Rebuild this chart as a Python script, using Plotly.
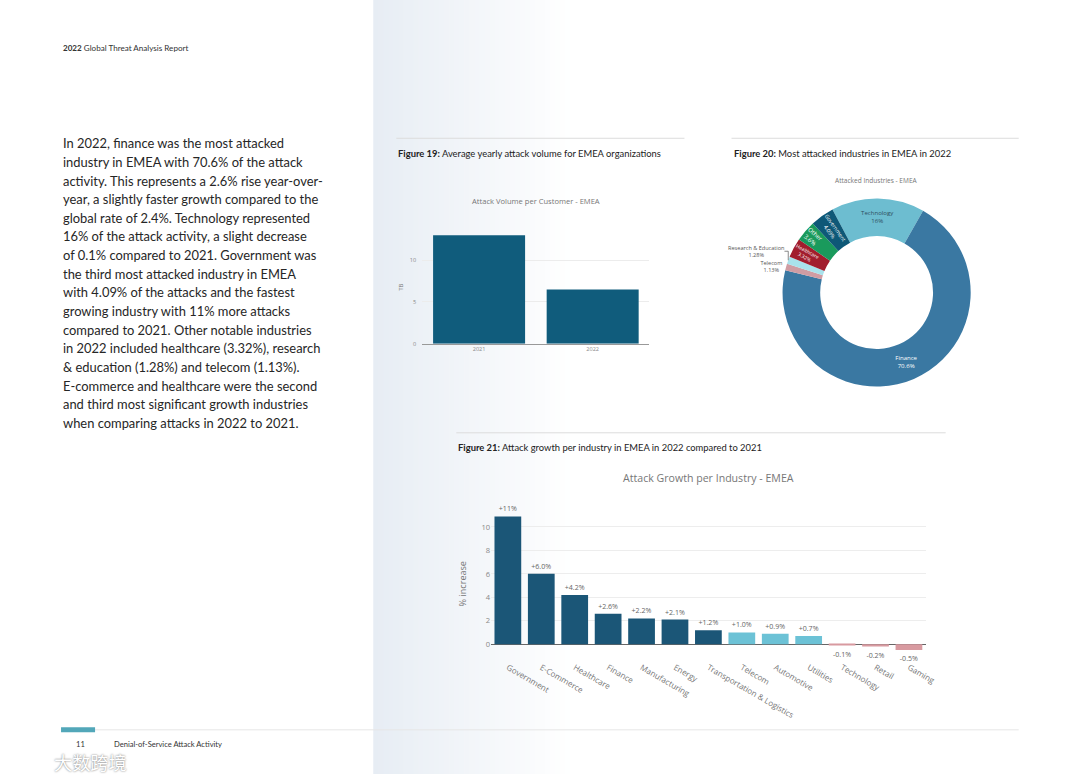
import plotly.graph_objects as go

W, H = 1080, 778

# ---------------- data ----------------
vol_years = ["2021", "2022"]
vol_values = [13.0, 6.5]

pie_labels = ["Technology", "Finance", "Telecom", "Research & Education",
              "Healthcare", "Other", "Government"]
pie_values = [16.0, 70.6, 1.13, 1.28, 3.32, 3.6, 4.09]
pie_text = ["16%", "70.6%", "1.13%", "1.28%", "3.32%", "3.6%", "4.09%"]
pie_colors = ["#6dbdd0", "#3a78a2", "#cf9ca3", "#a9e2ec", "#a21d2d", "#1a9a5c", "#0e5877"]

growth_industries = ["Government", "E-Commerce", "Healthcare", "Finance", "Manufacturing",
                     "Energy", "Transportation & Logistics", "Telecom", "Automotive",
                     "Utilities", "Technology", "Retail", "Gaming"]
growth_values = [10.9, 6.0, 4.2, 2.6, 2.2, 2.1, 1.2, 1.0, 0.9, 0.7, -0.1, -0.2, -0.5]
growth_labels = ["+11%", "+6.0%", "+4.2%", "+2.6%", "+2.2%", "+2.1%", "+1.2%",
                 "+1.0%", "+0.9%", "+0.7%", "-0.1%", "-0.2%", "-0.5%"]
growth_colors = ["#1b5677"] * 7 + ["#6cc2d6"] * 3 + ["#d89aa0"] * 3

paragraph = [
    "In 2022, finance was the most attacked",
    "industry in EMEA with 70.6% of the attack",
    "activity. This represents a 2.6% rise year-over-",
    "year, a slightly faster growth compared to the",
    "global rate of 2.4%. Technology represented",
    "16% of the attack activity, a slight decrease",
    "of 0.1% compared to 2021. Government was",
    "the third most attacked industry in EMEA",
    "with 4.09% of the attacks and the fastest",
    "growing industry with 11% more attacks",
    "compared to 2021. Other notable industries",
    "in 2022 included healthcare (3.32%), research",
    "& education (1.28%) and telecom (1.13%).",
    "E-commerce and healthcare were the second",
    "and third most significant growth industries",
    "when comparing attacks in 2022 to 2021.",
]

# the photographed page comes out about 1% smaller than drawn; compensate
SX, SY = 1.011, 1.007
FS = 1.01


def px(x):
    return min(1.0, x * SX / W)


def py(y):
    return max(0.0, 1 - y * SY / H)


PAGE_FONT = "Lato"
CHART_FONT = "Open Sans"

fig = go.Figure()

# Figure 19 bars
fig.add_trace(go.Bar(
    x=vol_years, y=vol_values, marker_color="#105c7c", marker_line_width=0,
    xaxis="x", yaxis="y", showlegend=False, hoverinfo="x+y"))

# Figure 21 bars
fig.add_trace(go.Bar(
    x=growth_industries, y=growth_values, marker_color=growth_colors, marker_line_width=0,
    text=growth_labels, textposition="outside", cliponaxis=False, width=0.8,
    textfont=dict(size=7 * FS, color="#666", family=CHART_FONT),
    xaxis="x2", yaxis="y2", showlegend=False))

# Figure 20 donut
inside_colors = ["#2d4f60"] + ["#ffffff"] * 6
fig.add_trace(go.Pie(
    labels=pie_labels, values=pie_values, text=pie_text,
    texttemplate="%{label}<br>%{text}", sort=False, direction="clockwise",
    rotation=-28, hole=0.6,
    marker=dict(colors=pie_colors, line=dict(width=0)),
    textposition=["inside", "inside", "outside", "outside", "inside", "inside", "inside"],
    insidetextorientation="auto",
    insidetextfont=dict(size=6 * FS, color=inside_colors, family=CHART_FONT),
    outsidetextfont=dict(size=5.5 * FS, color="#555", family=CHART_FONT),
    domain=dict(x=[px(782), px(970)], y=[py(386), py(198)]),
    showlegend=False))

shapes = []
# right panel gradient
n = 40
x0, x1 = 373, 575
c0 = (231, 237, 244)
for i in range(n):
    t = i / (n - 1)
    col = tuple(round(c0[k] + (255 - c0[k]) * t) for k in range(3))
    xa = x0 + (x1 - x0) * i / n
    xb = x0 + (x1 - x0) * (i + 1) / n + 0.6
    shapes.append(dict(type="rect", xref="paper", yref="paper",
                       x0=px(xa), x1=px(xb), y0=0, y1=1, layer="below",
                       line=dict(width=0), fillcolor="rgb(%d,%d,%d)" % col))

# caption rules
for (a, b, y) in [(396, 684, 138), (731, 1018, 138), (456, 945, 432)]:
    shapes.append(dict(type="line", xref="paper", yref="paper", x0=px(a), x1=px(b),
                       y0=py(y), y1=py(y), line=dict(color="#dcdcdc", width=1)))
# footer
shapes.append(dict(type="line", xref="paper", yref="paper", x0=px(95), x1=px(1018),
                   y0=py(728.5), y1=py(728.5), line=dict(color="#e6e6e6", width=1)))
shapes.append(dict(type="rect", xref="paper", yref="paper", x0=px(61), x1=px(95),
                   y0=py(731), y1=py(726), line=dict(width=0), fillcolor="#52a7b9"))

ann = []


def text(x, y, s, size, color="#222", xanchor="left", family=PAGE_FONT, angle=0, **kw):
    ann.append(dict(x=px(x), y=py(y), xref="paper", yref="paper", text=s, showarrow=False,
                    xanchor=xanchor, yanchor="middle", textangle=angle,
                    font=dict(size=size * FS, color=color, family=family, **kw)))


text(61, 48, "<b>2022</b> Global Threat Analysis Report", 8, "#333")
for i, line in enumerate(paragraph):
    text(61, 143 + i * 18.6, line, 12.8, "#262626")

text(396, 153, "<b>Figure 19:</b> Average yearly attack volume for EMEA organizations", 9.3, "#222")
text(731, 153, "<b>Figure 20:</b> Most attacked industries in EMEA in 2022", 9.3, "#222")
text(456, 447, "<b>Figure 21:</b> Attack growth per industry in EMEA in 2022 compared to 2021", 9.3, "#222")

text(536, 201, "Attack Volume per Customer - EMEA", 7.5, "#777", "center", CHART_FONT)
text(400, 287, "TB", 6, "#777", "center", CHART_FONT, angle=-90)
text(876, 180, "Attacked Industries - EMEA", 6.5, "#777", "center", CHART_FONT)
text(708, 477, "Attack Growth per Industry - EMEA", 10.5, "#777", "center", CHART_FONT)
text(462, 583, "% increase", 9, "#777", "center", CHART_FONT, angle=-90)

text(74, 743, "11", 7.5, "#333")
text(112, 743, "Denial-of-Service Attack Activity", 7.5, "#333")
text(52, 761, "大数跨境", 18, "#ffffff", family="Noto Sans CJK SC",
     shadow="0px 0px 2px #666")

fig.update_layout(
    width=W, height=H, margin=dict(l=0, r=0, t=0, b=0),
    paper_bgcolor="#ffffff", plot_bgcolor="rgba(0,0,0,0)",
    font=dict(family=CHART_FONT, color="#777"),
    shapes=shapes, annotations=ann, bargap=0.19,
    xaxis=dict(domain=[px(422), px(649)], anchor="y", showline=True, linecolor="#999",
               linewidth=1, tickfont=dict(size=5.5 * FS, color="#888"), ticks="",
               showgrid=False),
    yaxis=dict(domain=[py(343), py(229)], anchor="x", range=[0, 13.7],
               tickvals=[0, 5, 10], tickfont=dict(size=5.5 * FS, color="#888"),
               showgrid=True, gridcolor="#ececec", zeroline=False, showline=False,
               ticks="outside", ticklen=4, tickcolor="rgba(0,0,0,0)"),
    xaxis2=dict(domain=[px(490.8), px(925)], anchor="y2", tickangle=30,
                tickfont=dict(size=8 * FS, color="#777"), showline=False, showgrid=False,
                ticks="", ticklabelstandoff=7),
    yaxis2=dict(domain=[py(652.4), py(502.6)], anchor="x2", range=[-0.8, 12],
                tickvals=[0, 2, 4, 6, 8, 10], tickfont=dict(size=7.5 * FS, color="#888"),
                showgrid=True, gridcolor="#ededed", zeroline=True, zerolinecolor="#666",
                zerolinewidth=1, showline=False),
)

post = (
    "document.documentElement.style.margin='0';"
    "document.body.style.margin='0';"
)
fig.write_html("out.html", config={"displayModeBar": False}, post_script=post)
